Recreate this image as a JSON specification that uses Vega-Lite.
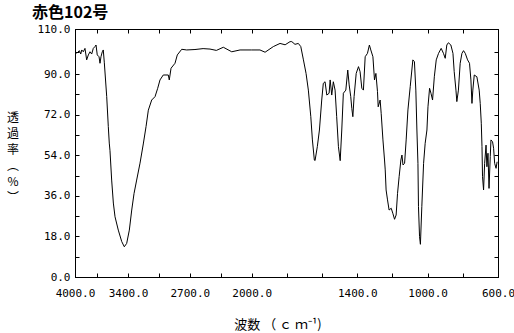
{
  "$schema": "https://vega.github.io/schema/vega-lite/v6.json",
  "autosize": {"type": "none"},
  "padding": {"left": 75, "top": 29, "right": 16, "bottom": 56},
  "width": 423,
  "height": 248,
  "background": "white",
  "title": {"text": "赤色102号", "anchor": "start", "frame": "group", "dx": -43, "baseline": "alphabetic", "offset": -11, "font": "Noto Sans CJK JP", "fontSize": 16, "fontWeight": "bold", "color": "black"},
  "config": {
    "view": {"stroke": "black", "strokeWidth": 1},
    "axis": {"grid": false, "domainColor": "black", "tickColor": "black", "labelColor": "black", "labelFont": "DejaVu Sans Mono", "labelFontSize": 11, "tickSize": -4, "labelOverlap": false, "labelFlush": false, "titleColor": "black", "titleFont": "Noto Sans CJK JP", "titleFontWeight": "normal", "titleFontSize": 13}
  },
  "data": {"values": [
    {"wn":4000,"t":99.2},{"wn":3974,"t":99.5},{"wn":3951,"t":100.4},{"wn":3935,"t":98.9},{"wn":3924,"t":100.7},{"wn":3906,"t":99.9},{"wn":3887,"t":101.4},{"wn":3868,"t":96.3},{"wn":3849,"t":98.5},{"wn":3830,"t":99.9},{"wn":3811,"t":98.9},{"wn":3793,"t":101.4},{"wn":3774,"t":102.2},{"wn":3762,"t":102.9},{"wn":3748,"t":98.5},{"wn":3728,"t":97.7},{"wn":3717,"t":94.8},{"wn":3706,"t":97.7},{"wn":3691,"t":99.9},{"wn":3680,"t":100.7},{"wn":3668,"t":95},{"wn":3641,"t":80},{"wn":3623,"t":66.7},{"wn":3612,"t":59.4},{"wn":3604,"t":56},{"wn":3585,"t":43},{"wn":3566,"t":32.8},{"wn":3547,"t":26.7},{"wn":3510,"t":20.8},{"wn":3471,"t":15.7},{"wn":3442,"t":13.4},{"wn":3415,"t":14.9},{"wn":3385,"t":20.8},{"wn":3358,"t":29.7},{"wn":3332,"t":37},{"wn":3302,"t":43},{"wn":3264,"t":50.5},{"wn":3227,"t":59},{"wn":3196,"t":66.7},{"wn":3170,"t":74},{"wn":3132,"t":78.5},{"wn":3094,"t":80},{"wn":3064,"t":83.7},{"wn":3038,"t":87.4},{"wn":3001,"t":89.6},{"wn":2944,"t":89.6},{"wn":2933,"t":87.4},{"wn":2913,"t":92.6},{"wn":2868,"t":94.8},{"wn":2842,"t":98.5},{"wn":2792,"t":101},{"wn":2736,"t":100.7},{"wn":2642,"t":100.9},{"wn":2550,"t":101.3},{"wn":2472,"t":101.1},{"wn":2400,"t":100.5},{"wn":2321,"t":101.9},{"wn":2226,"t":99.9},{"wn":2132,"t":100.7},{"wn":2000,"t":100.7},
    {"wn":1953,"t":100.7},{"wn":1924,"t":99.7},{"wn":1877,"t":102.2},{"wn":1839,"t":103.6},{"wn":1810,"t":103},{"wn":1782,"t":104.4},{"wn":1772,"t":104.4},{"wn":1754,"t":103.2},{"wn":1735,"t":103.6},{"wn":1721,"t":102.2},{"wn":1706,"t":96.3},{"wn":1691,"t":90.3},{"wn":1678,"t":82.9},{"wn":1664,"t":71.1},{"wn":1655,"t":60.8},{"wn":1644,"t":51.9},{"wn":1640,"t":51.6},{"wn":1627,"t":57.8},{"wn":1615,"t":65.2},{"wn":1602,"t":78.5},{"wn":1593,"t":85.9},{"wn":1583,"t":86.6},{"wn":1573,"t":80.7},{"wn":1560,"t":81.5},{"wn":1554,"t":87.4},{"wn":1545,"t":80.7},{"wn":1536,"t":86.6},{"wn":1526,"t":82.9},{"wn":1517,"t":71.1},{"wn":1507,"t":57.8},{"wn":1497,"t":51.6},{"wn":1488,"t":65.2},{"wn":1479,"t":81.5},{"wn":1465,"t":82.9},{"wn":1454,"t":91.8},{"wn":1446,"t":85.2},{"wn":1437,"t":80},{"wn":1431,"t":74.8},{"wn":1425,"t":71.1},{"wn":1418,"t":80},{"wn":1406,"t":90.3},{"wn":1393,"t":93.3},{"wn":1384,"t":91.1},{"wn":1374,"t":83.7},{"wn":1365,"t":82.9},{"wn":1355,"t":97.7},{"wn":1342,"t":99.2},{"wn":1331,"t":102.9},{"wn":1323,"t":100.7},{"wn":1311,"t":97.7},{"wn":1302,"t":87.4},{"wn":1294,"t":90.3},{"wn":1285,"t":82.2},{"wn":1281,"t":75.5},{"wn":1270,"t":78.5},{"wn":1264,"t":72.6},{"wn":1254,"t":60.8},{"wn":1245,"t":51.9},{"wn":1241,"t":47.5},{"wn":1236,"t":38.6},{"wn":1228,"t":34.2},{"wn":1219,"t":29.7},{"wn":1207,"t":30.5},{"wn":1198,"t":28.3},{"wn":1188,"t":25.6},{"wn":1179,"t":27.5},{"wn":1171,"t":37.1},{"wn":1162,"t":44.5},{"wn":1152,"t":51.9},{"wn":1146,"t":54.1},{"wn":1140,"t":49.7},{"wn":1131,"t":50.4},{"wn":1122,"t":60.8},{"wn":1112,"t":74.1},{"wn":1099,"t":84.4},{"wn":1084,"t":96.3},{"wn":1075,"t":95.5},{"wn":1067,"t":82.9},{"wn":1061,"t":65.2},{"wn":1055,"t":50.4},{"wn":1052,"t":31.2},{"wn":1046,"t":17.9},{"wn":1041,"t":14.5},{"wn":1033,"t":31.2},{"wn":1023,"t":50.4},{"wn":1014,"t":59.3},{"wn":1004,"t":65.2},{"wn":998,"t":75.5},{"wn":989,"t":83.7},{"wn":981,"t":81.5},{"wn":972,"t":78.5},{"wn":962,"t":88.8},{"wn":951,"t":96.3},{"wn":938,"t":99.2},{"wn":923,"t":101.4},{"wn":910,"t":99.2},{"wn":900,"t":97},{"wn":891,"t":102.9},{"wn":882,"t":103.9},{"wn":868,"t":102.9},{"wn":856,"t":99.2},{"wn":849,"t":91.1},{"wn":839,"t":82.9},{"wn":834,"t":77.8},{"wn":825,"t":82.9},{"wn":815,"t":94.8},{"wn":805,"t":99.2},{"wn":796,"t":100.4},{"wn":786,"t":99.2},{"wn":773,"t":96.3},{"wn":762,"t":94.8},{"wn":754,"t":87.4},{"wn":748,"t":77},{"wn":743,"t":82.9},{"wn":735,"t":89.6},{"wn":720,"t":88.8},{"wn":707,"t":82.9},{"wn":701,"t":77},{"wn":695,"t":68.2},{"wn":691,"t":57.8},{"wn":688,"t":44.5},{"wn":682,"t":38.6},{"wn":676,"t":50.4},{"wn":668,"t":58.5},{"wn":663,"t":48.9},{"wn":657,"t":54.9},{"wn":651,"t":39.3},{"wn":644,"t":53.4},{"wn":640,"t":60.8},{"wn":631,"t":60},{"wn":625,"t":57.1},{"wn":619,"t":50.4},{"wn":611,"t":48.2},{"wn":605,"t":51.1}
  ]},
  "layer": [
    {
      "mark": {"type": "line", "color": "black", "strokeWidth": 1},
      "encoding": {
        "x": {"field": "wn", "type": "quantitative", "sort": null,
          "scale": {"domain": [4000, 2000, 600], "range": [0, 176.7, 423], "zero": false, "nice": false},
          "axis": {"orient": "bottom", "values": [4000,3750,3400,3050,2700,2350,2000,1800,1600,1400,1200,1000,800,600], "format": ".1f", "labelExpr": "indexof([4000,3400,2700,2000,1400,1000,600], datum.value) >= 0 ? datum.label : ''", "labelPadding": 14, "title": "波数 （ ｃ ｍ⁻¹)", "titleX": 202.5, "titleY": 51, "titleAnchor": null, "titleAlign": "center", "titleBaseline": "alphabetic"}},
        "y": {"field": "t", "type": "quantitative",
          "scale": {"domain": [0, 110], "zero": false, "nice": false},
          "axis": {"orient": "left", "values": [0,9,18,27,36,45,54,63,72,81,90,100,110], "format": ".1f", "labelExpr": "(datum.value % 18 == 0 || datum.value == 110) ? datum.label : ''", "labelPadding": 9, "title": ["透","過","率","︵","%","︶"], "titleAngle": 0, "titleX": -62.5, "titleY": 83, "titleAlign": "center", "titleBaseline": "top", "titleFontSize": 12, "titleLineHeight": 16}}
      }
    },
    {
      "mark": {"type": "line", "opacity": 0},
      "encoding": {
        "x": {"field": "wn", "type": "quantitative", "sort": null,
          "axis": {"orient": "top", "values": [4000,3750,3400,3050,2700,2350,2000,1800,1600,1400,1200,1000,800,600], "labels": false, "title": null}},
        "y": {"field": "t", "type": "quantitative",
          "axis": {"orient": "right", "values": [0,9,18,27,36,45,54,63,72,81,90,100,110], "labels": false, "title": null}}
      }
    }
  ],
  "resolve": {"axis": {"x": "independent", "y": "independent"}}
}
